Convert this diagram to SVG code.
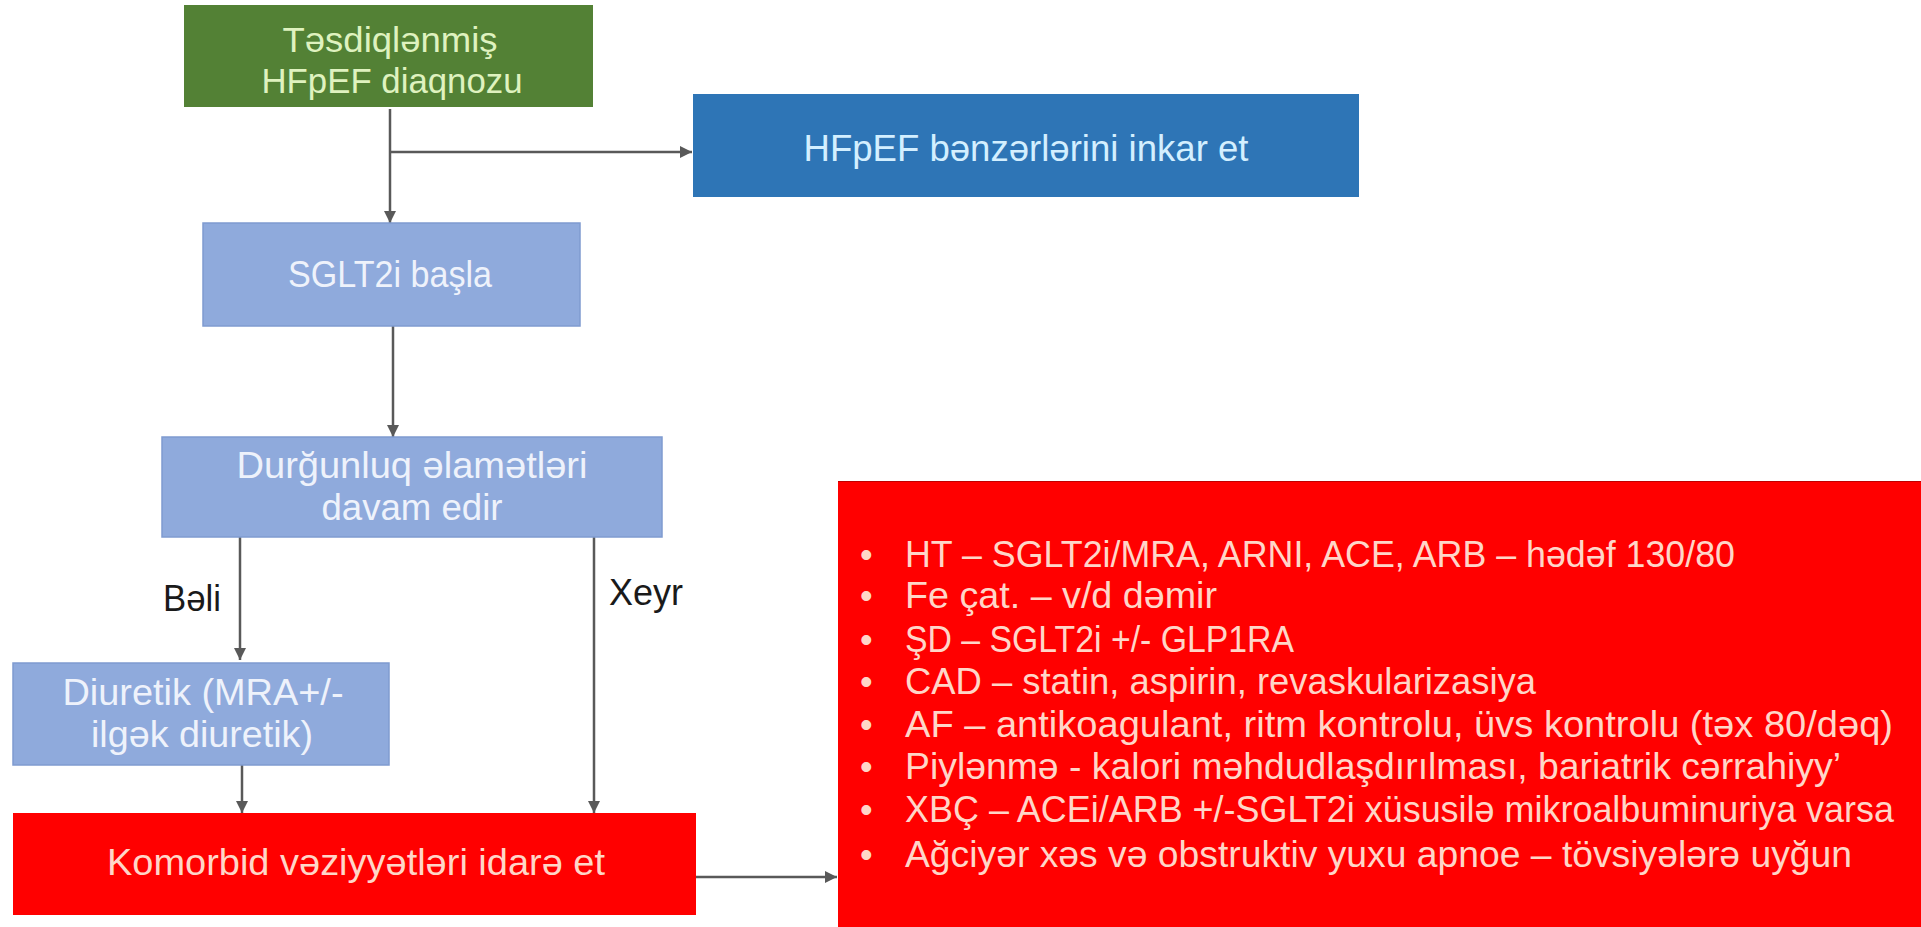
<svg xmlns="http://www.w3.org/2000/svg" width="1921" height="927" viewBox="0 0 1921 927">
<style>
  text { font-family: "Liberation Sans", Arial, sans-serif; font-size: 36px; }
  .c { text-anchor: middle; }
  .conn { stroke: #595959; stroke-width: 2.5; fill: none; }
  .lb { fill: #8faadc; stroke: #7f9bd0; stroke-width: 1.5; }
  .lbt { fill: #eef2fb; }
  .rt { fill: #ffd6c8; }
  .blt { fill: #ffd6c8; font-size: 34px; }
  .gt { fill: #dff2bf; font-size: 35px; }
</style>
<defs>
  <marker id="ah" markerUnits="userSpaceOnUse" markerWidth="12" markerHeight="12" viewBox="0 0 10 10" refX="10" refY="5" orient="auto">
    <path d="M0,0 L10,5 L0,10 z" fill="#595959"/>
  </marker>
</defs>
<rect x="0" y="0" width="1921" height="927" fill="#ffffff"/>

<g id="connectors">
  <line class="conn" x1="390" y1="109" x2="390" y2="223" marker-end="url(#ah)"/>
  <line class="conn" x1="390" y1="152" x2="692" y2="152" marker-end="url(#ah)"/>
  <line class="conn" x1="393" y1="326" x2="393" y2="437" marker-end="url(#ah)"/>
  <line class="conn" x1="240" y1="537" x2="240" y2="660" marker-end="url(#ah)"/>
  <line class="conn" x1="594" y1="537" x2="594" y2="813" marker-end="url(#ah)"/>
  <line class="conn" x1="242" y1="765" x2="242" y2="813" marker-end="url(#ah)"/>
  <line class="conn" x1="696" y1="877" x2="837" y2="877" marker-end="url(#ah)"/>
  <text x="163" y="611" fill="#1a1a1a" textLength="58" lengthAdjust="spacingAndGlyphs">Bəli</text>
  <text x="609" y="605" fill="#1a1a1a" textLength="74" lengthAdjust="spacingAndGlyphs">Xeyr</text>
</g>

<g id="node-diagnosis">
  <rect x="184" y="5" width="409" height="102" fill="#538135"/>
  <text class="c gt" x="390" y="52" textLength="215" lengthAdjust="spacingAndGlyphs">Təsdiqlənmiş</text>
  <text class="c gt" x="392" y="93" textLength="261" lengthAdjust="spacingAndGlyphs">HFpEF diaqnozu</text>
</g>

<g id="node-mimics">
  <rect x="693" y="94" width="666" height="103" fill="#2e75b6"/>
  <text class="c" x="1026" y="161" fill="#d3efff" textLength="445" lengthAdjust="spacingAndGlyphs">HFpEF bənzərlərini inkar et</text>
</g>

<g id="node-sglt2i">
  <rect class="lb" x="203" y="223" width="377" height="103"/>
  <text class="c lbt" x="390" y="287" textLength="204" lengthAdjust="spacingAndGlyphs">SGLT2i başla</text>
</g>

<g id="node-congestion">
  <rect class="lb" x="162" y="437" width="500" height="100"/>
  <text class="c lbt" x="412" y="478" textLength="351" lengthAdjust="spacingAndGlyphs">Durğunluq əlamətləri</text>
  <text class="c lbt" x="412" y="520" textLength="181" lengthAdjust="spacingAndGlyphs">davam edir</text>
</g>

<g id="node-diuretic">
  <rect class="lb" x="13" y="663" width="376" height="102"/>
  <text class="c lbt" x="203" y="705" textLength="281" lengthAdjust="spacingAndGlyphs">Diuretik (MRA+/-</text>
  <text class="c lbt" x="202" y="747" textLength="222" lengthAdjust="spacingAndGlyphs">ilgək diuretik)</text>
</g>

<g id="node-comorbid">
  <rect x="13" y="813" width="683" height="102" fill="#ff0000"/>
  <text class="c rt" x="356" y="875" textLength="498" lengthAdjust="spacingAndGlyphs">Komorbid vəziyyətləri idarə et</text>
</g>

<g id="node-list">
  <rect x="838" y="481" width="1083" height="446" fill="#ff0000"/>
  <line x1="838" y1="481.5" x2="1921" y2="481.5" stroke="#c00000" stroke-width="1"/>
  <g class="blt">
    <text x="860" y="567">•</text>
    <text x="905" y="567" textLength="830" lengthAdjust="spacingAndGlyphs">HT – SGLT2i/MRA, ARNI, ACE, ARB – hədəf 130/80</text>
    <text x="860" y="608">•</text>
    <text x="905" y="608" textLength="312" lengthAdjust="spacingAndGlyphs">Fe çat. – v/d dəmir</text>
    <text x="860" y="652">•</text>
    <text x="905" y="652" textLength="389" lengthAdjust="spacingAndGlyphs">ŞD – SGLT2i +/- GLP1RA</text>
    <text x="860" y="694">•</text>
    <text x="905" y="694" textLength="631" lengthAdjust="spacingAndGlyphs">CAD – statin, aspirin, revaskularizasiya</text>
    <text x="860" y="737">•</text>
    <text x="905" y="737" textLength="988" lengthAdjust="spacingAndGlyphs">AF – antikoagulant, ritm kontrolu, üvs kontrolu (təx 80/dəq)</text>
    <text x="860" y="779">•</text>
    <text x="905" y="779" textLength="936" lengthAdjust="spacingAndGlyphs">Piylənmə - kalori məhdudlaşdırılması, bariatrik cərrahiyy’</text>
    <text x="860" y="822">•</text>
    <text x="905" y="822" textLength="989" lengthAdjust="spacingAndGlyphs">XBÇ – ACEi/ARB +/-SGLT2i xüsusilə mikroalbuminuriya varsa</text>
    <text x="860" y="867">•</text>
    <text x="905" y="867" textLength="947" lengthAdjust="spacingAndGlyphs">Ağciyər xəs və obstruktiv yuxu apnoe – tövsiyələrə uyğun</text>
  </g>
</g>
</svg>
